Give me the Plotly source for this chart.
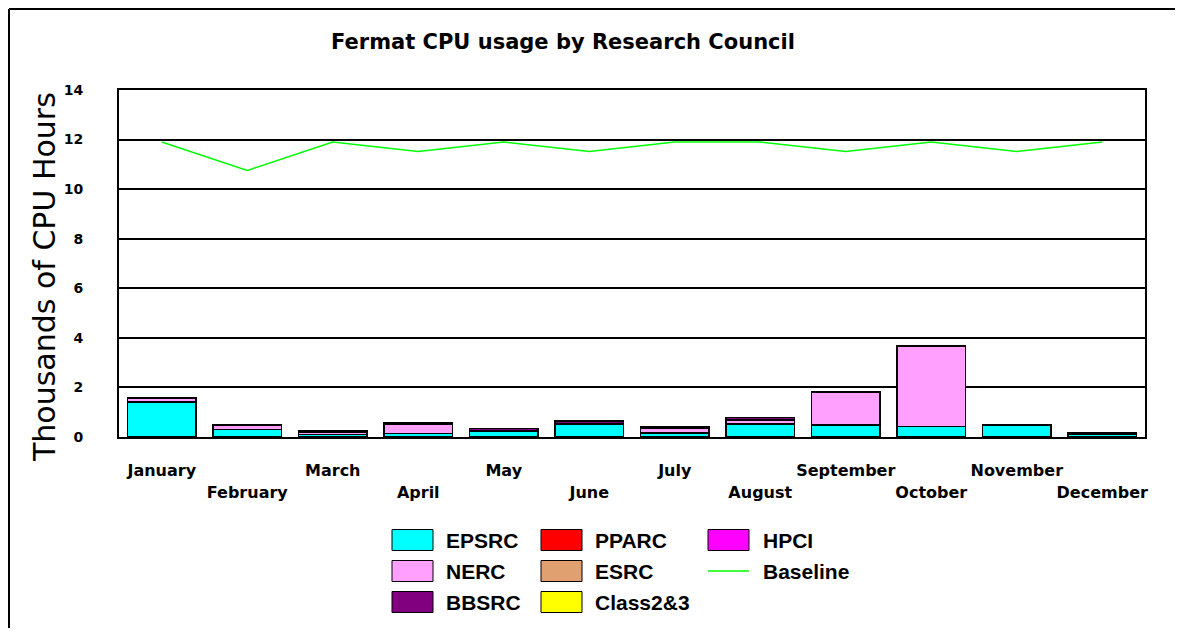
import plotly.graph_objects as go

# ---------------- data ----------------
months = ["January", "February", "March", "April", "May", "June",
          "July", "August", "September", "October", "November", "December"]

epsrc = [1.42, 0.30, 0.11, 0.15, 0.25, 0.52, 0.17, 0.53, 0.48, 0.42, 0.46, 0.10]
nerc = [0.15, 0.18, 0.07, 0.37, 0.00, 0.00, 0.17, 0.15, 1.33, 3.25, 0.00, 0.00]
bbsrc = [0.00, 0.00, 0.06, 0.06, 0.10, 0.13, 0.06, 0.10, 0.00, 0.00, 0.04, 0.06]
pparc = [0.0] * 12
esrc = [0.0] * 12
class23 = [0.0] * 12
hpci = [0.0] * 12
baseline = [11.904, 10.752, 11.904, 11.52, 11.904, 11.52,
            11.904, 11.904, 11.52, 11.904, 11.52, 11.904]

y_ticks = [0, 2, 4, 6, 8, 10, 12, 14]

series_names = ["EPSRC", "NERC", "BBSRC", "PPARC", "ESRC", "Class2&3", "HPCI"]
series_values = [epsrc, nerc, bbsrc, pparc, esrc, class23, hpci]
series_colors = ["#00FFFF", "#FFA0FF", "#800080", "#FF0000", "#E0A070", "#FFFF00", "#FF00FF"]

# legend layout (column-major as in the original)
legend_cols = [["EPSRC", "NERC", "BBSRC"], ["PPARC", "ESRC", "Class2&3"], ["HPCI", "Baseline"]]
baseline_color = "#00FF00"

# ---------------- geometry (screen px, page has 8px body margin) ----------------
OFF = 8
W_FIG, H_FIG = 1186 - 2 * OFF, 639 - 2 * OFF
PLOT_L, PLOT_R, PLOT_T, PLOT_B = 119, 1145, 90, 437  # screen coordinates
L = PLOT_L - OFF
T = PLOT_T - OFF
R = W_FIG - (PLOT_R - OFF)
B = H_FIG - (PLOT_B - OFF)
PW = PLOT_R - PLOT_L
PH = PLOT_B - PLOT_T


def px2x(px):
    return (px - PLOT_L) / PW


def py2y(py):
    return (PLOT_B - py) / PH


fig = go.Figure()

for name, vals, col in zip(series_names, series_values, series_colors):
    fig.add_trace(go.Bar(
        x=months, y=vals, name=name,
        marker=dict(color=col, line=dict(color="black", width=1.5)),
        showlegend=False,
    ))

fig.add_trace(go.Scatter(
    x=months, y=baseline, name="Baseline", mode="lines",
    line=dict(color=baseline_color, width=1.5),
    xaxis="x2", showlegend=False,
))

odd = months[0::2]
even = months[1::2]
tick_font = dict(family="DejaVu Sans", size=16, color="black", weight="bold")

fig.update_layout(
    width=W_FIG, height=H_FIG,
    margin=dict(l=L, r=R, t=T, b=B),
    paper_bgcolor="white", plot_bgcolor="white",
    barmode="stack", bargap=0.2,
    showlegend=False,
    title=dict(
        text="<b>Fermat CPU usage by Research Council</b>",
        x=(563 - OFF) / W_FIG, y=1 - (42 - OFF) / H_FIG, xref="container", yref="container",
        xanchor="center", yanchor="middle",
        font=dict(family="DejaVu Sans", size=21, color="black"),
    ),
    xaxis=dict(
        type="category", categoryorder="array", categoryarray=months,
        tickmode="array", tickvals=odd, ticktext=odd,
        tickfont=tick_font, ticks="", ticklabelstandoff=18,
        showline=True, linecolor="black", linewidth=2, mirror=True,
        showgrid=False,
    ),
    xaxis2=dict(
        type="category", categoryorder="array", categoryarray=months,
        overlaying="x", matches="x", anchor="y", side="bottom",
        tickmode="array", tickvals=even, ticktext=even,
        tickfont=tick_font, ticks="", ticklabelstandoff=44,
        showline=False, showgrid=False,
    ),
    yaxis=dict(
        range=[0, 14], tickmode="array", tickvals=y_ticks,
        tickfont=dict(family="DejaVu Sans", size=14, color="black", weight="bold"),
        ticks="", ticklabelstandoff=31,
        showgrid=True, gridcolor="black", gridwidth=1.5,
        showline=True, linecolor="black", linewidth=2, mirror=True,
        zeroline=False,
    ),
)

annotations = [dict(
    text="Thousands of CPU Hours", textangle=-90,
    x=px2x(44), y=py2y(277), xref="paper", yref="paper",
    xanchor="center", yanchor="middle", showarrow=False,
    font=dict(family="DejaVu Sans", size=30, color="black"),
)]

# outer frame: only the left and top edges are visible in the original
shapes = [
    dict(type="line", xref="paper", yref="paper",
         x0=px2x(9), x1=px2x(9), y0=py2y(9), y1=py2y(628),
         line=dict(color="black", width=2)),
    dict(type="line", xref="paper", yref="paper",
         x0=px2x(9), x1=px2x(1175), y0=py2y(9), y1=py2y(9),
         line=dict(color="black", width=2)),
]

color_of = dict(zip(series_names, series_colors))
col_box_x = [392, 541, 708]
col_text_x = [444, 593, 761]
row_y = [540, 571, 602]
for ci, col_items in enumerate(legend_cols):
    for ri, name in enumerate(col_items):
        cy = row_y[ri]
        bx0 = col_box_x[ci]
        if name == "Baseline":
            shapes.append(dict(
                type="line", xref="paper", yref="paper",
                x0=px2x(bx0), x1=px2x(bx0 + 41), y0=py2y(cy), y1=py2y(cy),
                line=dict(color=baseline_color, width=1.5),
            ))
        else:
            shapes.append(dict(
                type="rect", xref="paper", yref="paper",
                x0=px2x(bx0), x1=px2x(bx0 + 41), y0=py2y(cy + 10.5), y1=py2y(cy - 10.5),
                line=dict(color="black", width=1), fillcolor=color_of[name],
            ))
        annotations.append(dict(
            text="<b>%s</b>" % name.replace("&", "&amp;"),
            x=px2x(col_text_x[ci]), y=py2y(cy), xref="paper", yref="paper",
            xanchor="left", yanchor="middle", showarrow=False,
            font=dict(family="Liberation Sans", size=21, color="black"),
        ))

fig.update_layout(annotations=annotations, shapes=shapes)

fig.write_html("out.html")
